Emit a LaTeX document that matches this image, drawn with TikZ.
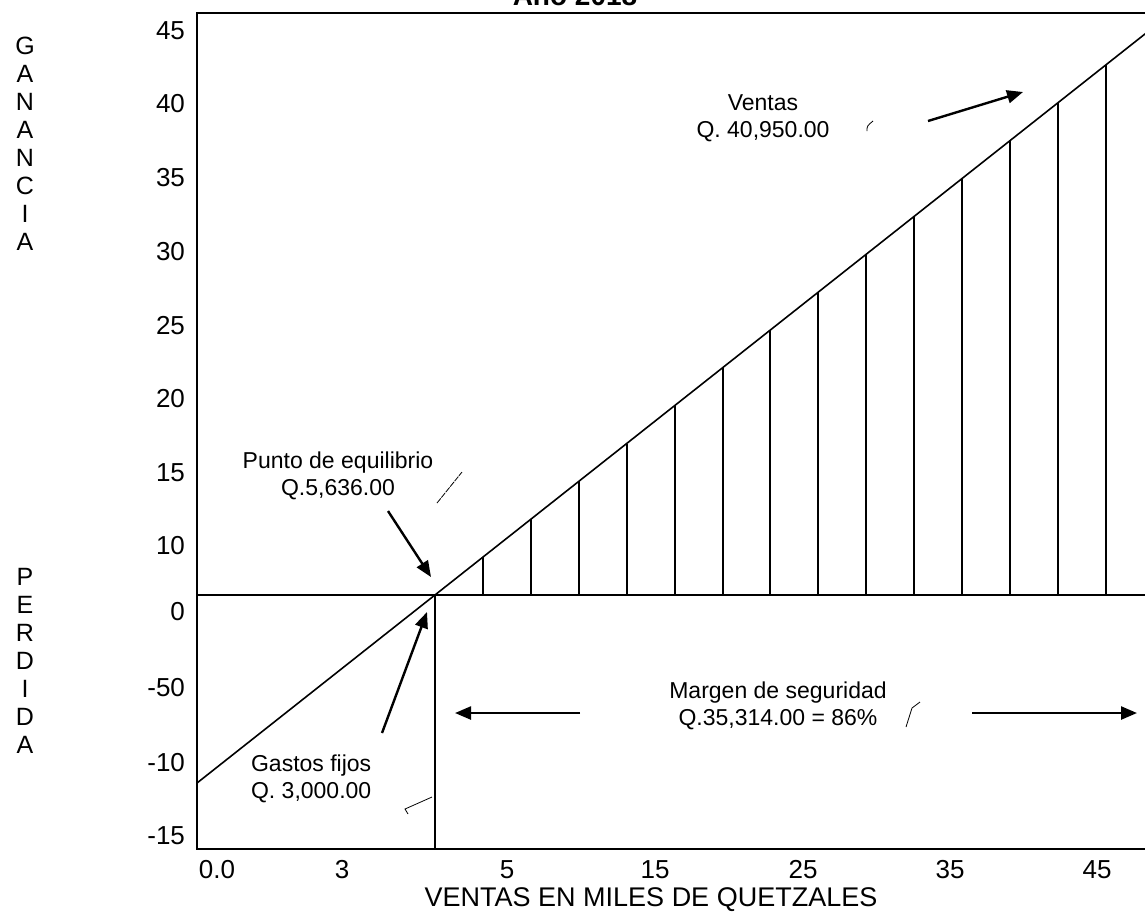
\documentclass[tikz,border=0pt]{standalone}
\usepackage{fontspec}
\setmainfont{Liberation Sans}
\usetikzlibrary{arrows.meta}
\tikzset{
  etiq/.style={font=\fontsize{11.5}{13.5}\selectfont,align=center},
  eje/.style={font=\fontsize{13}{14}\selectfont},
  flecha/.style={line width=1.2pt,-{Triangle[length=8pt,width=6.5pt]}},
  barra/.style={line width=1pt},
  marca/.style={line width=.4pt}
}
\begin{document}
\begin{tikzpicture}[x=0.5pt,y=-0.5pt]
\useasboundingbox (0,0) rectangle (1145,918);
\node[font=\bfseries\fontsize{14}{16}\selectfont,anchor=base] (titulo) at (575,5) {Año 2018};
\draw[line width=1pt] (197,13) rectangle (1150,849);
\draw[line width=1pt] (197,595) -- (1150,595);
\coordinate (pe) at (435,595);
\coordinate (ini) at (197,783);
\coordinate (fin) at (1150,30);
\coordinate (base) at (435,849);
\draw[line width=.8pt] (ini) -- (fin);
\draw[barra] (pe) -- (base);
\foreach \x in {0,...,13}\draw[barra] ({483+47.9*\x},595) -- ({483+47.9*\x},{595-0.7899*(48+47.9*\x)});
\foreach \y/\t [count=\i] in {31/45,104/40,178/35,252/30,326/25,399/20,473/15,546/10,612/0,688/-50,763/-10,836/-15}\node[eje,anchor=east] (ye\i) at (192,\y) {\t};
\foreach \x/\t [count=\i] in {217/0.0,342/3,507/5,655/15,803/25,950/35,1097/45}\node[eje] (xe\i) at (\x,870) {\t};
\node[font=\fontsize{13.5}{16}\selectfont] (xtit) at (651,900) {VENTAS EN MILES DE QUETZALES};
\node[align=center,font=\fontsize{12.5}{14}\selectfont] (gan) at (25,144) {G\\A\\N\\A\\N\\C\\I\\A};
\node[align=center,font=\fontsize{12.5}{14}\selectfont] (per) at (25,661) {P\\E\\R\\D\\I\\D\\A};
\node[etiq] (ventas) at (763,118) {Ventas\\Q. 40,950.00};
\node[etiq] (punto) at (338,476) {Punto de equilibrio\\Q.5,636.00};
\node[etiq,align=left,anchor=west] (gastos) at (244,779) {Gastos fijos\\Q. 3,000.00};
\node[etiq] (margen) at (778,706) {Margen de seguridad\\Q.35,314.00 = 86\%};
\coordinate (vc) at (928,121);
\coordinate (vp) at (1023,92);
\coordinate (pc) at (388,511);
\coordinate (pp) at (431,577);
\coordinate (gc) at (382,733);
\coordinate (gp) at (427,612);
\coordinate (mi) at (580,713);
\coordinate (mip) at (455,713);
\coordinate (md) at (972,713);
\coordinate (mdp) at (1137,713);
\draw[flecha] (vc) -- (vp);
\draw[flecha] (pc) -- (pp);
\draw[flecha] (gc) -- (gp);
\draw[flecha] (mi) -- (mip);
\draw[flecha] (md) -- (mdp);
\draw[marca] (867,131) .. controls (867,126) .. (873,121);
\draw[marca,dashed,dash pattern=on 3pt off .5pt] (437,503) -- (462,472);
\draw[marca] (408,814) -- (405,809) -- (432,797);
\draw[marca] (906,727) -- (912,708) -- (920,702);
\end{tikzpicture}
\end{document}
